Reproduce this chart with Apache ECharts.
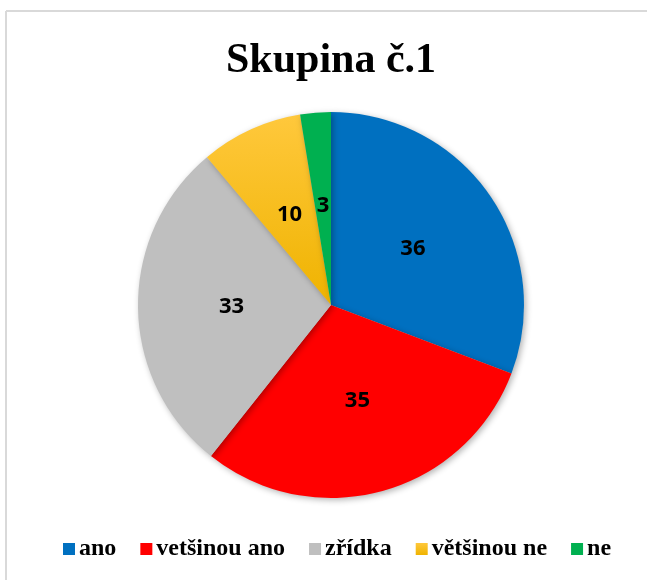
<!DOCTYPE html>
<html>
<head>
<meta charset="utf-8">
<script src="https://cdn.jsdelivr.net/npm/echarts@6/dist/echarts.min.js"></script>
<style>
  html, body { margin: 0; padding: 0; background: #fff; }
  #graf { width: 647px; height: 580px; }
</style>
</head>
<body>
<div id="graf"></div>
<script>
// hodnoty
const kategorie = ["ano", "vetšinou ano", "zřídka", "většinou ne", "ne"];
const hodnoty = [36, 35, 33, 10, 3];
const barvy = [
  "#0070C0",
  "#FF0000",
  "#BFBFBF",
  new echarts.graphic.LinearGradient(0, 0, 0, 1, [
    { offset: 0, color: "#FFC83C" },
    { offset: 1, color: "#EFB300" }
  ]),
  "#00B050"
];

var dom = document.getElementById("graf");
var myChart = echarts.init(dom, null, { renderer: "canvas" });

const datos = kategorie.map(function (k, i) {
  return { name: k, value: hodnoty[i], itemStyle: { color: barvy[i] } };
});

var option = {
  animation: false,
  backgroundColor: "#fff",
  graphic: [
    { type: "line", shape: { x1: 6, y1: 11, x2: 647, y2: 11 }, style: { stroke: "#d9d9d9", lineWidth: 2 } },
    { type: "line", shape: { x1: 6, y1: 11, x2: 6, y2: 580 }, style: { stroke: "#d9d9d9", lineWidth: 2 } }
  ],
  title: {
    text: "Skupina č.1",
    left: 221,
    top: 35,
    textStyle: {
      fontFamily: "Liberation Serif",
      fontWeight: "bold",
      fontSize: 42,
      color: "#000"
    }
  },
  legend: {
    bottom: 14,
    left: 58,
    itemWidth: 12,
    itemHeight: 12,
    itemGap: 24,
    icon: "rect",
    textStyle: {
      fontFamily: "Liberation Serif",
      fontWeight: "bold",
      fontSize: 24,
      color: "#000",
      padding: [0, 0, 0, -1]
    },
    data: kategorie
  },
  series: [
    {
      type: "pie",
      center: [331, 305],
      radius: 193,
      startAngle: 90,
      clockwise: true,
      itemStyle: {
        borderWidth: 0,
        shadowBlur: 6,
        shadowOffsetX: 2,
        shadowOffsetY: 2,
        shadowColor: "rgba(0,0,0,0.3)"
      },
      label: {
        show: true,
        position: "inner",
        formatter: "{c}",
        fontFamily: "Open Sans",
        fontWeight: "bold",
        fontSize: 22,
        color: "#000"
      },
      labelLine: { show: false },
      emphasis: { disabled: true },
      data: datos
    }
  ]
};

myChart.setOption(option);
window.addEventListener("resize", myChart.resize);
</script>
</body>
</html>
